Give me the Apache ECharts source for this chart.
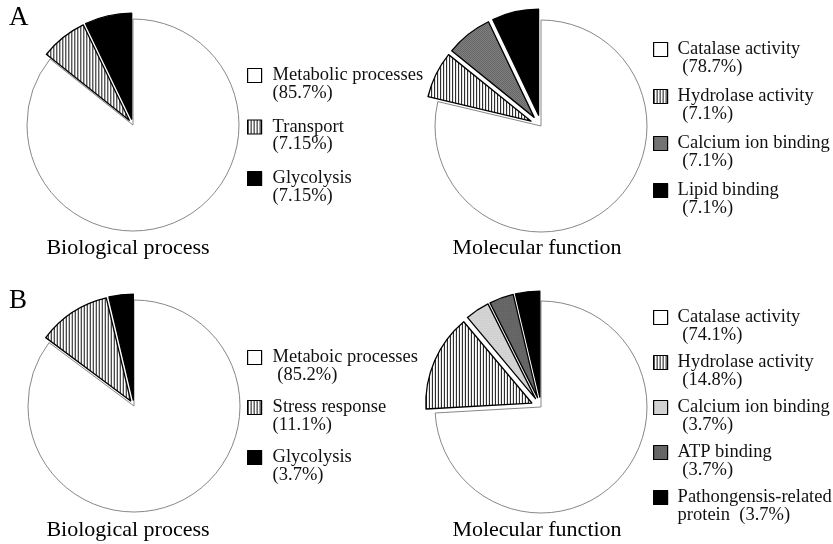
<!DOCTYPE html>
<html><head><meta charset="utf-8">
<script src="https://cdn.jsdelivr.net/npm/echarts@6/dist/echarts.min.js"></script>
<style>html,body{margin:0;padding:0;background:#fff}#c{width:833px;height:544px}</style>
</head><body><div id="c"></div>
<script>
// ---- data ----
const bpA_names = ['Metabolic processes', 'Transport', 'Glycolysis'];
const bpA_values = [85.7, 7.15, 7.15];
const bpA_pct = ['(85.7%)', '(7.15%)', '(7.15%)'];

const mfA_names = ['Catalase activity', 'Hydrolase activity', 'Calcium ion binding', 'Lipid binding'];
const mfA_values = [78.7, 7.1, 7.1, 7.1];
const mfA_pct = [' (78.7%)', ' (7.1%)', ' (7.1%)', ' (7.1%)'];

const bpB_names = ['Metaboic processes', 'Stress response', 'Glycolysis'];
const bpB_values = [85.2, 11.1, 3.7];
const bpB_pct = [' (85.2%)', '(11.1%)', '(3.7%)'];

const mfB_names = ['Catalase activity', 'Hydrolase activity', 'Calcium ion binding', 'ATP binding', 'Pathongensis-related'];
const mfB_values = [74.1, 14.8, 3.7, 3.7, 3.7];
const mfB_pct = [' (74.1%)', ' (14.8%)', ' (3.7%)', ' (3.7%)', 'protein  (3.7%)'];

const panelLabels = ['A', 'B'];
const titles = ['Biological process', 'Molecular function'];

// ---- patterns ----
function pat(w, h, draw) {
  const c = document.createElement('canvas'); c.width = w; c.height = h;
  const g = c.getContext('2d'); draw(g); return { image: c, repeat: 'repeat' };
}
const WHITE = '#ffffff';
const STRIPE = pat(3, 3, g => { g.fillStyle = '#fff'; g.fillRect(0, 0, 3, 3); g.fillStyle = '#111'; g.fillRect(0, 0, 1, 3); });
const CHECK = pat(2, 2, g => { g.fillStyle = '#bdbdbd'; g.fillRect(0, 0, 2, 2); g.fillStyle = '#2a2a2a'; g.fillRect(0, 0, 1, 1); g.fillRect(1, 1, 1, 1); });
const LIGHT = pat(2, 2, g => { g.fillStyle = '#d8d8d8'; g.fillRect(0, 0, 2, 2); g.fillStyle = '#c2c2c2'; g.fillRect(0, 0, 1, 1); });
const DARK = pat(2, 2, g => { g.fillStyle = '#6e6e6e'; g.fillRect(0, 0, 2, 2); g.fillStyle = '#505050'; g.fillRect(0, 0, 1, 1); });
const BLACK = '#000000';

const FONT = '"Liberation Serif", "Times New Roman", serif';

function makeData(names, values, fills) {
  return names.map((n, i) => ({
    name: n, value: values[i], selected: i > 0,
    itemStyle: i === 0
      ? { color: fills[i], borderColor: '#888', borderWidth: 1 }
      : { color: fills[i], borderColor: '#000', borderWidth: 1.3 }
  }));
}
function pieSeries(id, names, values, fills, center, offset) {
  return {
    type: 'pie', id: id, center: center, radius: 106, startAngle: 90, clockwise: true,
    selectedMode: 'multiple', selectedOffset: offset, avoidLabelOverlap: false,
    label: { show: false }, labelLine: { show: false },
    emphasis: { disabled: true }, silent: true,
    data: makeData(names, values, fills)
  };
}
function legendFor(names, pct, fills, left, top, gap, pad) {
  const map = {}; names.forEach((n, i) => map[n] = pct[i]);
  return {
    data: names.map((n, i) => ({ name: n, itemStyle: { color: fills[i], borderColor: '#000', borderWidth: 1.2 } })),
    orient: 'vertical', left: left, top: top, itemGap: gap,
    itemWidth: 14, itemHeight: 14, icon: 'rect', selectedMode: false,
    itemStyle: { borderColor: '#000', borderWidth: 1.2 },
    formatter: n => '\n' + n + '\n' + map[n],
    textStyle: { fontFamily: FONT, fontSize: 18.5, lineHeight: 17.5, color: '#111', padding: [0, 0, 0, pad] }
  };
}

const fillsA1 = [WHITE, STRIPE, BLACK];
const fillsA2 = [WHITE, STRIPE, CHECK, BLACK];
const fillsB1 = [WHITE, STRIPE, BLACK];
const fillsB2 = [WHITE, STRIPE, LIGHT, DARK, BLACK];

const chart = echarts.init(document.getElementById('c'));
chart.setOption({
  animation: false,
  backgroundColor: '#fff',
  series: [
    pieSeries('a1', bpA_names, bpA_values, fillsA1, [133, 125], 6),
    pieSeries('a2', mfA_names, mfA_values, fillsA2, [541, 126], 11),
    pieSeries('b1', bpB_names, bpB_values, fillsB1, [134, 406], 6),
    pieSeries('b2', mfB_names, mfB_values, fillsB2, [541, 407], 10)
  ],
  legend: [
    legendFor(bpA_names, bpA_pct, fillsA1, 242, 43.5, -2.5, 6),
    legendFor(mfA_names, mfA_pct, fillsA2, 648, 17.5, -7, 5),
    legendFor(bpB_names, bpB_pct, fillsB1, 242, 325.5, -4, 6),
    legendFor(mfB_names, mfB_pct, fillsB2, 648, 285.5, -9, 5)
  ],
  graphic: [
    { type: 'text', x: 9, y: 4, style: { text: panelLabels[0], font: '27px ' + FONT, fill: '#000' } },
    { type: 'text', x: 9, y: 287, style: { text: panelLabels[1], font: '27px ' + FONT, fill: '#000' } },
    { type: 'text', x: 128, y: 248, style: { text: titles[0], font: '22px ' + FONT, fill: '#000', textAlign: 'center', textVerticalAlign: 'middle' } },
    { type: 'text', x: 537, y: 248, style: { text: titles[1], font: '22px ' + FONT, fill: '#000', textAlign: 'center', textVerticalAlign: 'middle' } },
    { type: 'text', x: 128, y: 530, style: { text: titles[0], font: '22px ' + FONT, fill: '#000', textAlign: 'center', textVerticalAlign: 'middle' } },
    { type: 'text', x: 537, y: 530, style: { text: titles[1], font: '22px ' + FONT, fill: '#000', textAlign: 'center', textVerticalAlign: 'middle' } }
  ]
});
</script></body></html>
